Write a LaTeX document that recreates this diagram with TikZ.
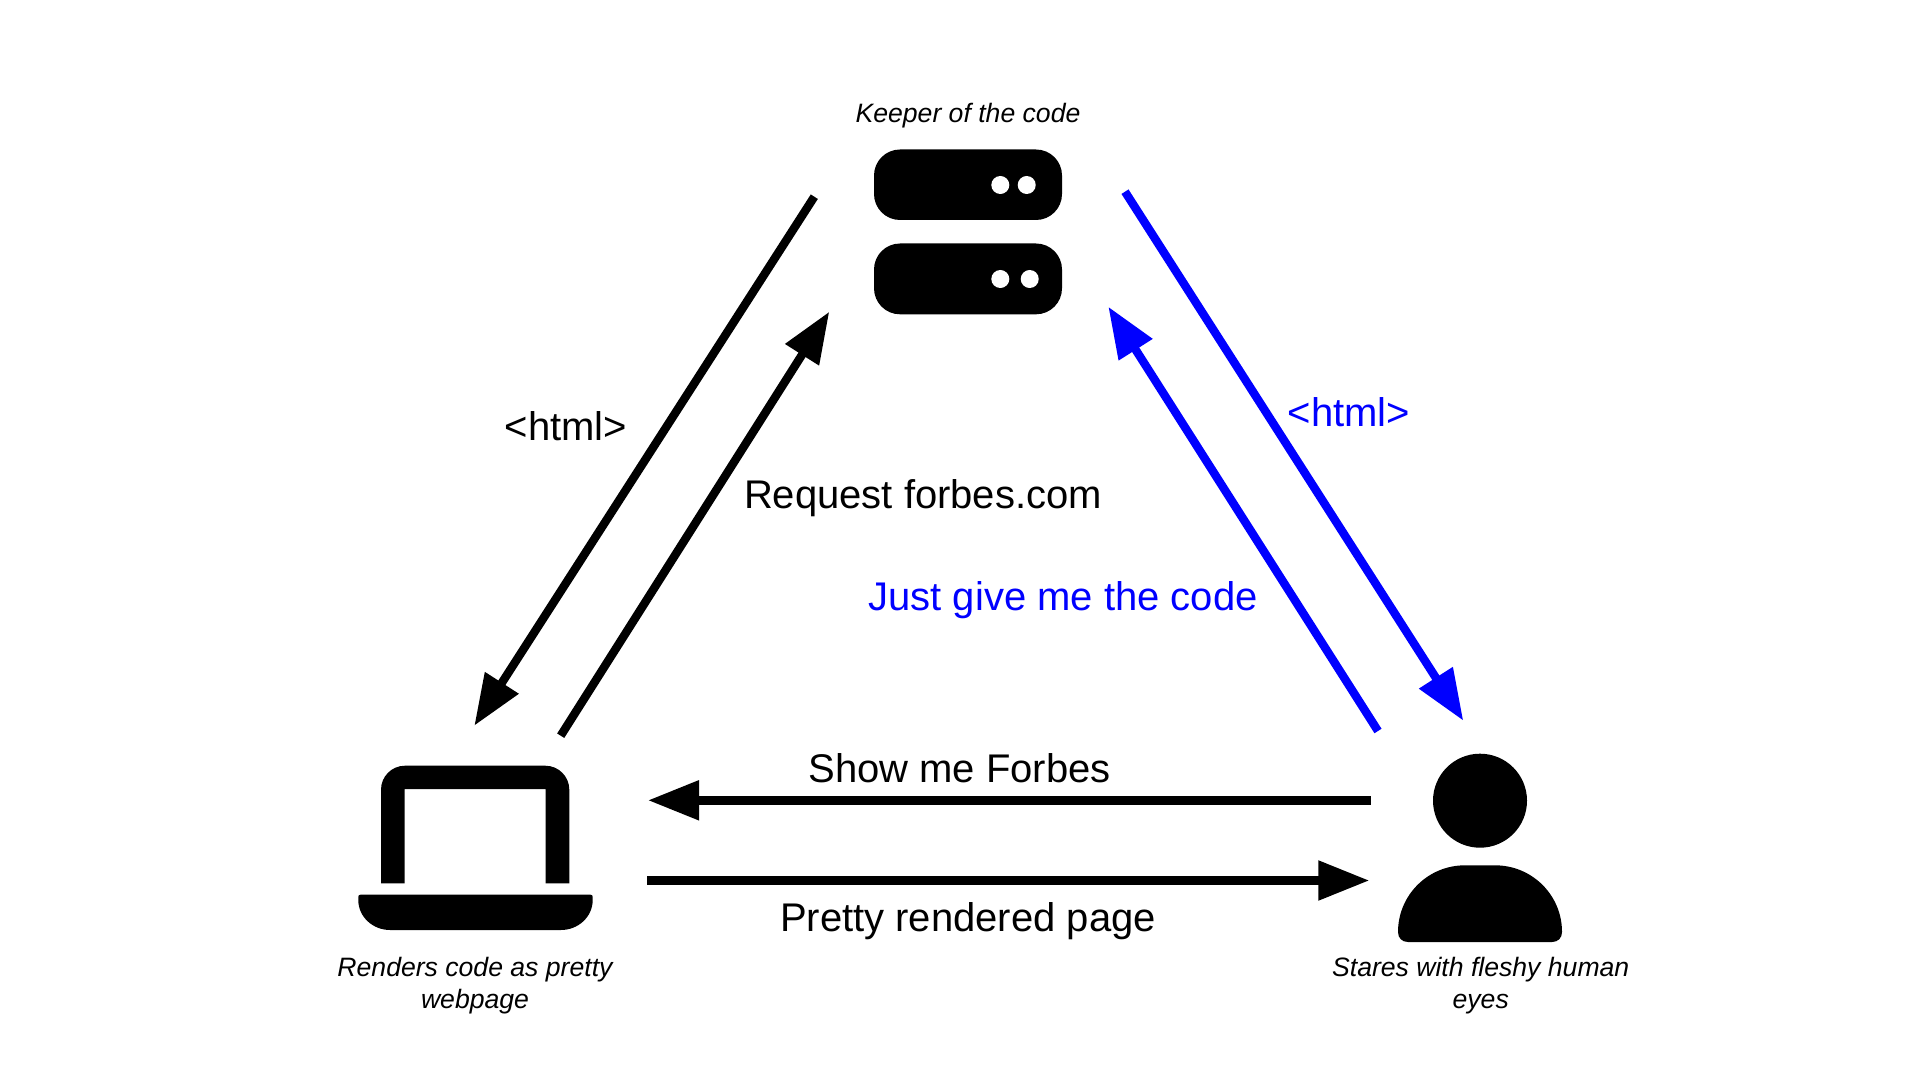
\documentclass[tikz,border=0pt]{standalone}
\usepackage{fontspec}
\setmainfont{Liberation Sans}
\usetikzlibrary{arrows.meta}
\definecolor{pureblue}{HTML}{0000FF}
\tikzset{
  conn/.style={line width=4.2pt,-{Triangle[length=25.5pt,width=19pt]}},
  black conn/.style={conn,draw=black},
  blue conn/.style={conn,draw=pureblue},
  biglabel/.style={anchor=base,inner sep=0pt,font=\fontsize{20}{24}\selectfont},
  smalllabel/.style={anchor=base,inner sep=0pt,align=center,font=\fontsize{13.3}{16}\selectfont\itshape},
  serverbox/.style={fill=black,rounded corners=13pt},
  led/.style={fill=white},
}
\begin{document}
\begin{tikzpicture}[x=0.5pt,y=-0.5pt]
\useasboundingbox (0,0) rectangle (1920,1080);
\fill[white] (0,0) rectangle (1920,1080);
% server icon
\fill[serverbox] (874,149.5) rectangle (1062,220);
\fill[serverbox] (874,243.5) rectangle (1062,314.3);
\fill[led] (1000.3,185) circle[radius=9];
\fill[led] (1026.7,185) circle[radius=9];
\fill[led] (1000.3,279) circle[radius=9];
\fill[led] (1029.7,279) circle[radius=9];
% laptop icon
\fill[black] (381,883.3) [rounded corners=12pt] -- (381,765.7) -- (569.3,765.7) [sharp corners] -- (569.3,883.3) -- (545.7,883.3) -- (545.7,789) -- (404.7,789) -- (404.7,883.3) -- cycle;
\fill[black] (358.3,897) .. controls (358.3,895.4) and (359,894.7) .. (360.6,894.7) -- (590.4,894.7) .. controls (592,894.7) and (592.7,895.4) .. (592.7,897) -- (592.7,900) .. controls (592.7,917) and (578,930) .. (561,930) -- (390,930) .. controls (373,930) and (358.3,917) .. (358.3,900) -- cycle;
% person icon
\fill[black] (1480,800.7) circle[radius=47];
\fill[black] (1398,932) .. controls (1398,895) and (1428,865.3) .. (1465,865.3) -- (1495,865.3) .. controls (1532,865.3) and (1562,895) .. (1562,932) .. controls (1562,938) and (1558,942) .. (1552,942) -- (1408,942) .. controls (1402,942) and (1398,938) .. (1398,932) -- cycle;
% connector ends
\coordinate (aS) at (814.3,196.7);
\coordinate (aT) at (474.3,725.7);
\coordinate (bS) at (560.7,735.7);
\coordinate (bT) at (829.3,311.7);
\coordinate (cS) at (1378,731);
\coordinate (cT) at (1108.3,306.7);
\coordinate (dS) at (1125,191.7);
\coordinate (dT) at (1463.3,720.7);
\coordinate (eS) at (1370.7,800.3);
\coordinate (eT) at (648,800.3);
\coordinate (fS) at (647.3,880.5);
\coordinate (fT) at (1369.3,880.5);
\draw[black conn] (aS) -- (aT);
\draw[black conn] (bS) -- (bT);
\draw[blue conn] (cS) -- (cT);
\draw[blue conn] (dS) -- (dT);
\draw[black conn] (eS) -- (eT);
\draw[black conn] (fS) -- (fT);
% labels
\node[smalllabel] (keeper) at (968,122.7) {Keeper of the code};
\node[smalllabel] (renders) at (475,1008.6) {Renders code as pretty\\webpage};
\node[smalllabel] (stares) at (1480.7,1008.6) {Stares with fleshy human\\eyes};
\node[biglabel] (req) at (923,508.8) {Request forbes.com};
\node[biglabel] (htmlb) at (566,440.3) {<html>};
\node[biglabel,text=pureblue] (htmlc) at (1349,426.7) {<html>};
\node[biglabel,text=pureblue] (just) at (1063,610) {Just give me the code};
\node[biglabel] (show) at (959.5,782) {Show me Forbes};
\node[biglabel] (pretty) at (968,931) {Pretty rendered page};
\end{tikzpicture}
\end{document}
